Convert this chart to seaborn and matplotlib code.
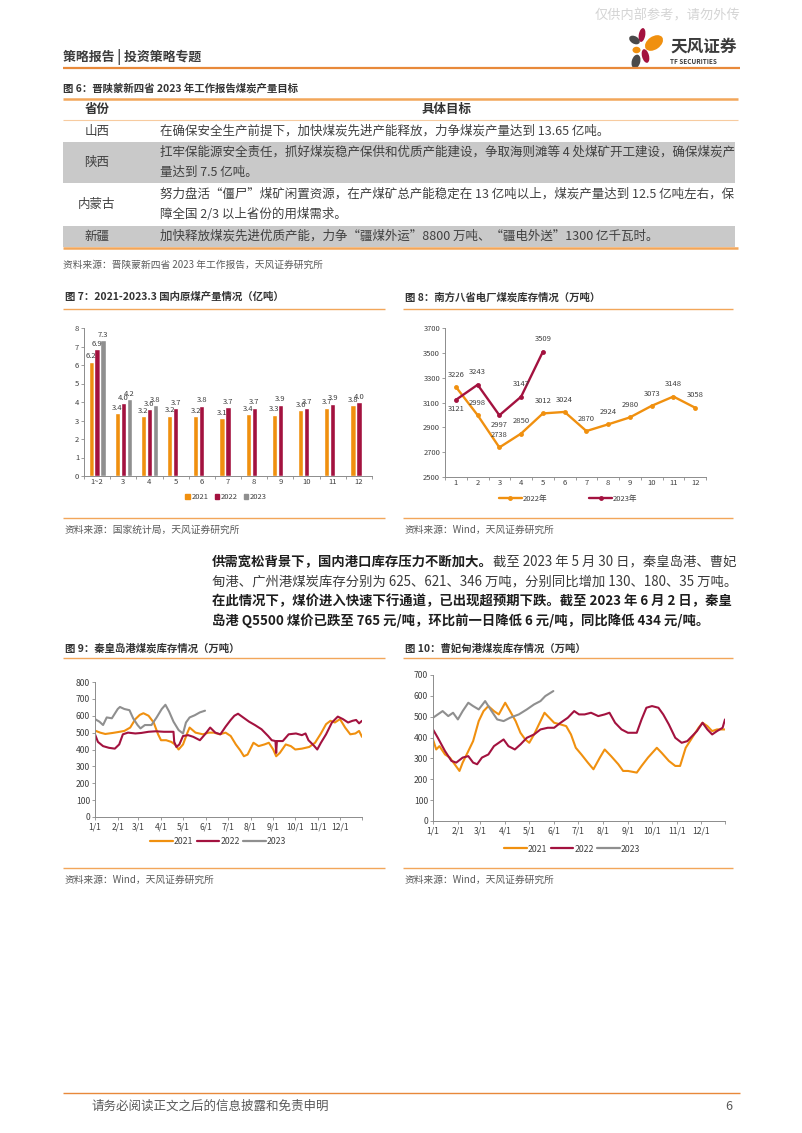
import numpy as np
import pandas as pd
import matplotlib
matplotlib.use('Agg')
import matplotlib.pyplot as plt
import seaborn as sns
from matplotlib.patches import Ellipse, Rectangle
from matplotlib.lines import Line2D

# ---------------------------------------------------------------- data
TABLE_TITLE = '图 6：晋陕蒙新四省 2023 年工作报告煤炭产量目标'
TABLE_HEAD = ['省份', '具体目标']
PROVINCES = ['山西', '陕西', '内蒙古', '新疆']
TARGETS = [
    ['在确保安全生产前提下，加快煤炭先进产能释放，力争煤炭产量达到 13.65 亿吨。'],
    ['扛牢保能源安全责任，抓好煤炭稳产保供和优质产能建设，争取海则滩等 4 处煤矿开工建设，确保煤炭产',
     '量达到 7.5 亿吨。'],
    ['努力盘活“僵尸”煤矿闲置资源，在产煤矿总产能稳定在 13 亿吨以上，煤炭产量达到 12.5 亿吨左右，保',
     '障全国 2/3 以上省份的用煤需求。'],
    ['加快释放煤炭先进优质产能，力争“疆煤外运”8800 万吨、“疆电外送”1300 亿千瓦时。'],
]
TABLE_SOURCE = '资料来源：晋陕蒙新四省 2023 年工作报告，天风证券研究所'

# Fig 7: raw coal output (100 million t)
MONTHS7 = ['1~2', '3', '4', '5', '6', '7', '8', '9', '10', '11', '12']
OUT_2021 = [6.18, 3.38, 3.22, 3.25, 3.24, 3.13, 3.35, 3.32, 3.57, 3.70, 3.82]
OUT_2022 = [6.87, 3.95, 3.60, 3.68, 3.80, 3.72, 3.70, 3.86, 3.70, 3.90, 4.00]
OUT_2023 = [7.33, 4.15, 3.82]
YEARS = ['2021', '2022', '2023']

# Fig 8: southern 8 provinces power plant coal stock (10k t)
MONTHS8 = ['1', '2', '3', '4', '5', '6', '7', '8', '9', '10', '11', '12']
STOCK8_2022 = [3226, 2998, 2738, 2850, 3012, 3024, 2870, 2924, 2980, 3073, 3148, 3058]
STOCK8_2023 = [3121, 3243, 2997, 3147, 3509]

# Fig 9: Qinhuangdao port coal stock (10k t)
Q21_DATES = ['01-01', '01-08', '01-15', '01-25', '02-01', '02-10', '02-18', '02-25', '03-03', '03-08',
             '03-15', '03-22', '03-28', '04-01', '04-08', '04-15', '04-20', '04-25', '05-01', '05-07',
             '05-10', '05-18', '05-28', '06-05', '06-12', '06-20', '06-28', '07-05', '07-12', '07-18',
             '07-23', '07-28', '08-05', '08-12', '08-20', '08-26', '09-01', '09-05', '09-10', '09-18',
             '09-25', '10-01', '10-10', '10-20', '10-28', '11-05', '11-12', '11-18', '11-24', '12-01',
             '12-08', '12-15', '12-22', '12-27', '12-31']
Q21_VALS = [512, 500, 492, 498, 503, 510, 530, 580, 605, 615,
            600, 560, 490, 455, 455, 445, 430, 400, 430, 500,
            530, 500, 490, 500, 500, 490, 500, 480, 430, 395,
            360, 370, 440, 420, 430, 440, 400, 360, 380, 430,
            420, 400, 405, 415, 440, 495, 550, 570, 560, 580,
            530, 490, 495, 510, 475]
Q22_DATES = ['01-01', '01-05', '01-12', '01-20', '01-28', '02-03', '02-08', '02-15', '02-25', '03-05',
             '03-15', '03-25', '04-05', '04-15', '04-18', '04-19', '04-22', '04-26', '05-01', '05-08',
             '05-15', '05-24', '05-31', '06-07', '06-14', '06-21', '06-28', '07-05', '07-10', '07-15',
             '07-22', '07-30', '08-07', '08-16', '08-25', '08-30', '09-04', '09-05', '09-06', '09-14',
             '09-22', '10-02', '10-10', '10-15', '10-19', '10-26', '10-31', '11-05', '11-12', '11-20',
             '11-28', '12-05', '12-12', '12-18', '12-23', '12-27', '12-31']
Q22_VALS = [490, 445, 420, 410, 405, 430, 490, 500, 495, 498,
            505, 508, 505, 505, 505, 445, 415, 430, 480, 485,
            475, 455, 490, 530, 500, 490, 535, 575, 600, 612,
            590, 565, 545, 520, 480, 455, 450, 380, 450, 450,
            490, 495, 485, 495, 455, 425, 400, 440, 490, 560,
            595, 580, 560, 570, 575, 555, 570]
Q23_DATES = ['01-01', '01-07', '01-12', '01-17', '01-24', '02-01', '02-04', '02-10', '02-17', '02-22',
             '02-28', '03-04', '03-10', '03-19', '03-26', '04-02', '04-07', '04-12', '04-18', '04-25',
             '05-01', '05-05', '05-10', '05-17', '05-24', '05-31']
Q23_VALS = [580, 565, 545, 590, 585, 640, 652, 640, 633, 585,
            545, 525, 545, 545, 590, 640, 665, 625, 565, 515,
            495, 560, 590, 603, 620, 630]

# Fig 10: Caofeidian port coal stock (10k t)
C21_DATES = ['01-01', '01-05', '01-09', '01-16', '01-22', '01-28', '02-03', '02-07', '02-14', '02-20',
             '02-27', '03-05', '03-11', '03-18', '03-24', '04-01', '04-07', '04-14', '04-20', '04-26',
             '05-01', '05-07', '05-15', '05-20', '05-26', '06-01', '06-09', '06-16', '06-22', '06-28',
             '07-05', '07-13', '07-20', '07-28', '08-03', '08-11', '08-20', '08-26', '09-01', '09-12',
             '09-18', '09-26', '10-07', '10-13', '10-22', '10-30', '11-05', '11-12', '11-20', '11-28',
             '12-03', '12-09', '12-15', '12-21', '12-31']
C21_VALS = [391, 343, 359, 319, 304, 272, 240, 280, 335, 383,
            479, 527, 551, 527, 511, 567, 527, 479, 423, 391,
            375, 415, 479, 519, 495, 471, 463, 455, 415, 351,
            319, 280, 248, 304, 343, 311, 272, 240, 240, 232,
            264, 304, 351, 327, 288, 264, 264, 351, 399, 447,
            471, 455, 431, 439, 439]
C22_DATES = ['01-01', '01-07', '01-16', '01-24', '01-30', '02-07', '02-14', '02-20', '02-25', '03-03',
             '03-11', '03-18', '03-24', '03-30', '04-05', '04-13', '04-20', '04-28', '05-07', '05-15',
             '05-24', '06-01', '06-09', '06-18', '06-26', '07-02', '07-09', '07-17', '07-26', '08-03',
             '08-09', '08-16', '08-24', '09-01', '09-12', '09-18', '09-24', '10-01', '10-09', '10-15',
             '10-22', '10-30', '11-07', '11-14', '11-20', '11-26', '12-03', '12-09', '12-15', '12-21',
             '12-28', '12-31']
C22_VALS = [439, 399, 335, 288, 280, 304, 311, 280, 272, 304,
            319, 359, 375, 391, 359, 343, 367, 399, 415, 439,
            447, 447, 471, 495, 527, 511, 511, 519, 503, 511,
            519, 471, 439, 423, 423, 487, 543, 551, 543, 511,
            463, 399, 375, 383, 407, 431, 471, 439, 415, 431,
            447, 487]
C23_DATES = ['01-01', '01-07', '01-13', '01-20', '01-26', '02-01', '02-07', '02-14', '02-20', '02-27',
             '03-07', '03-15', '03-22', '03-30', '04-07', '04-18', '04-28', '05-07', '05-15', '05-21',
             '05-31']
C23_VALS = [495, 511, 527, 503, 519, 487, 527, 567, 551, 535,
            575, 527, 487, 479, 495, 511, 535, 559, 575, 599,
            623]

MONTH_TICKS = ['1/1', '2/1', '3/1', '4/1', '5/1', '6/1', '7/1', '8/1', '9/1', '10/1', '11/1', '12/1']

PARA_LINES = [
    [('供需宽松背景下，国内港口库存压力不断加大。', True), ('截至 2023 年 5 月 30 日，秦皇岛港、曹妃', False)],
    [('甸港、广州港煤炭库存分别为 625、621、346 万吨，分别同比增加 130、180、35 万吨。', False)],
    [('在此情况下，煤价进入快速下行通道，已出现超预期下跌。截至 2023 年 6 月 2 日，秦皇', True)],
    [('岛港 Q5500 煤价已跌至 765 元/吨，环比前一日降低 6 元/吨，同比降低 434 元/吨。', True)],
]

# ---------------------------------------------------------------- style
sns.set_theme(style='ticks')
plt.rcParams['font.family'] = ['Noto Sans CJK SC', 'DejaVu Sans']
plt.rcParams['axes.unicode_minus'] = False

ORANGE = '#F0900F'
CRIMSON = '#A3123F'
GREY = '#8F8F8F'
LINE_OR = '#F2A65A'
TXT = '#3A3A3A'
SRC = '#5A5A5A'
AXC = '#8C8C8C'
PAL = {'2021': ORANGE, '2022': CRIMSON, '2023': GREY}

W, H = 802, 1133
fig = plt.figure(figsize=(W / 100, H / 100), dpi=100)
page = fig.add_axes([0, 0, 1, 1])
page.set_xlim(0, W)
page.set_ylim(H, 0)
page.axis('off')
renderer = fig.canvas.get_renderer()


def rect(x0, y0, x1, y1):
    return [x0 / W, 1 - y1 / H, (x1 - x0) / W, (y1 - y0) / H]


def hline(y, x0, x1, color=LINE_OR, lw=1.0):
    page.plot([x0, x1], [y, y], color=color, lw=lw, solid_capstyle='butt')


def txt(x, y, s, size=7.5, color=TXT, bold=False, ha='left', **kw):
    return page.text(x, y, s, fontsize=size, color=color, ha=ha, va='center',
                     fontweight='bold' if bold else 'normal', **kw)


# ---------------------------------------------------------------- header
txt(740, 16, '仅供内部参考，请勿外传', size=9.5, color='#D4D4D4', ha='right')
txt(63, 57, '策略报告 | 投资策略专题', size=9.3, color='#3C3C3C', bold=True)
hline(68, 63, 740, color='#E8893A', lw=1.6)
# logo petals
for (cx, cy, w, h, ang, col) in [
        (642, 35, 6.5, 14, 10, CRIMSON), (654, 43, 20, 13, -35, ORANGE),
        (634.5, 40, 11.5, 7.5, 30, '#4A4A4A'), (636.5, 50, 8, 6.5, 0, ORANGE),
        (645.5, 56, 7, 14, -15, CRIMSON), (636, 61.5, 8.5, 14, 15, '#4A4A4A')]:
    page.add_patch(Ellipse((cx, cy), w, h, angle=ang, color=col, lw=0))
txt(670, 47, '天风证券', size=12, color='#3C3C3C', bold=True)
txt(670, 62, 'TF SECURITIES', size=4.6, color='#3C3C3C', bold=True)

# ---------------------------------------------------------------- table
txt(63, 88, TABLE_TITLE, size=7.5, bold=True, color='#333333')
row_top = [120, 142, 183, 226]
row_bot = [142, 183, 226, 247]
for i in (1, 3):
    page.add_patch(Rectangle((63, row_top[i]), 672, row_bot[i] - row_top[i],
                             color='#C9C9C9', lw=0))
hline(98.5, 63, 738, lw=1.8)
hline(120, 63, 738, color='#F7CBA0', lw=0.8)
hline(247.5, 63, 738, lw=1.8)
txt(97, 109, TABLE_HEAD[0], size=9, bold=True, ha='center', color='#333333')
txt(447, 109, TABLE_HEAD[1], size=9, bold=True, ha='center', color='#333333')
for i, (prov, lines) in enumerate(zip(PROVINCES, TARGETS)):
    yc = (row_top[i] + row_bot[i]) / 2
    txt(97, yc, prov, size=9.0, ha='center', color='#404040')
    n = len(lines)
    for j, ln in enumerate(lines):
        y = yc + (j - (n - 1) / 2) * 20
        txt(160, y, ln, size=9.0, color='#404040')
txt(63, 265, TABLE_SOURCE, size=7, color=SRC)

# ---------------------------------------------------------------- chart frames
def frame(x0, x1, y_title, y_top, y_bot, title, source):
    txt(x0 + 2, y_title, title, size=7.5, bold=True, color='#333333')
    hline(y_top, x0, x1, lw=1.0)
    hline(y_bot, x0, x1, lw=1.0)
    txt(x0 + 2, y_bot + 12, source, size=7, color=SRC)


frame(63, 385, 297, 309, 518, '图 7：2021-2023.3 国内原煤产量情况（亿吨）', '资料来源：国家统计局，天风证券研究所')
frame(403, 733, 297, 309, 518, '图 8：南方八省电厂煤炭库存情况（万吨）', '资料来源：Wind，天风证券研究所')
frame(63, 385, 648, 658, 868, '图 9：秦皇岛港煤炭库存情况（万吨）', '资料来源：Wind，天风证券研究所')
frame(403, 733, 648, 658, 868, '图 10：曹妃甸港煤炭库存情况（万吨）', '资料来源：Wind，天风证券研究所')


def style_axes(ax, size=5.5):
    sns.despine(ax=ax)
    for s in ('left', 'bottom'):
        ax.spines[s].set_color(AXC)
        ax.spines[s].set_linewidth(0.7)
    ax.tick_params(labelsize=size, colors=AXC, labelcolor='#404040', length=2, width=0.6, pad=1.5)
    ax.set_xlabel('')
    ax.set_ylabel('')
    ax.set_facecolor('none')
    ax.grid(False)


# ---------------------------------------------------------------- Fig 7 bars
rows = []
for yr, vals in zip(YEARS, [OUT_2021, OUT_2022, OUT_2023]):
    for m, v in zip(MONTHS7, vals):
        rows.append({'month': m, 'year': yr, 'value': v})
df7 = pd.DataFrame(rows)
ax7 = fig.add_axes(rect(84, 328, 372, 476))
sns.barplot(data=df7, x='month', y='value', hue='year', order=MONTHS7, hue_order=YEARS,
            palette=PAL, width=0.68, gap=0.12, errorbar=None, legend=False, ax=ax7,
            saturation=1)
for cont in ax7.containers:
    ax7.bar_label(cont, fmt='%.1f', fontsize=5.5, padding=1, color='#404040')
style_axes(ax7)
ax7.set_ylim(0, 8)
ax7.set_yticks(range(0, 9))
ax7.set_xlim(-0.5, len(MONTHS7) - 0.5)
ax7.set_xticks(np.arange(-0.5, len(MONTHS7), 1), minor=True)
ax7.tick_params(axis='x', which='major', length=0)
ax7.tick_params(axis='x', which='minor', length=2.5, color=AXC, width=0.6)
handles7 = [Rectangle((0, 0), 1, 1, color=PAL[y]) for y in YEARS]
fig.legend(handles7, YEARS, loc='center', bbox_to_anchor=(226 / W, 1 - 497 / H), ncol=3,
           frameon=False, fontsize=5.5, handlelength=0.6, handleheight=0.6,
           handletextpad=0.2, columnspacing=0.8, labelcolor='#404040')

# ---------------------------------------------------------------- Fig 8 lines
df8 = pd.concat([
    pd.DataFrame({'pos': range(len(STOCK8_2022)), 'value': STOCK8_2022, 'year': '2022年'}),
    pd.DataFrame({'pos': range(len(STOCK8_2023)), 'value': STOCK8_2023, 'year': '2023年'}),
])
ax8 = fig.add_axes(rect(445, 328, 706, 477))
sns.lineplot(data=df8, x='pos', y='value', hue='year', palette={'2022年': ORANGE, '2023年': CRIMSON},
             marker='o', markersize=3.5, markeredgewidth=0, linewidth=1.7, legend=False, ax=ax8)
style_axes(ax8)
ax8.set_ylim(2500, 3700)
ax8.set_yticks(range(2500, 3701, 200))
ax8.set_xlim(-0.5, len(MONTHS8) - 0.5)
ax8.set_xticks(range(len(MONTHS8)))
ax8.set_xticklabels(MONTHS8)
ax8.set_xticks(np.arange(-0.5, len(MONTHS8), 1), minor=True)
ax8.tick_params(axis='x', which='major', length=0)
ax8.tick_params(axis='x', which='minor', length=2.5, color=AXC, width=0.6)
for i, v in enumerate(STOCK8_2022):
    ax8.annotate(str(v), (i, v), xytext=(0, 6), textcoords='offset points', ha='center',
                 va='bottom', fontsize=5.5, color='#404040')
POS_2023 = ['below', 'above', 'below', 'above', 'above']
for i, (v, p) in enumerate(zip(STOCK8_2023, POS_2023)):
    dy = 6 if p == 'above' else -4
    ax8.annotate(str(v), (i, v), xytext=(0, dy), textcoords='offset points', ha='center',
                 va='bottom' if p == 'above' else 'top', fontsize=5.5, color='#404040')
handles8 = [Line2D([], [], color=ORANGE, lw=1.7, marker='o', markersize=3.5, markeredgewidth=0),
            Line2D([], [], color=CRIMSON, lw=1.7, marker='o', markersize=3.5, markeredgewidth=0)]
fig.legend(handles8, ['2022年', '2023年'], loc='center', bbox_to_anchor=(568 / W, 1 - 499 / H),
           ncol=2, frameon=False, fontsize=5.5, handlelength=3.0, handletextpad=0.1,
           columnspacing=5.5, labelcolor='#404040')


# ---------------------------------------------------------------- Fig 9 / 10
def doy(dates):
    return (pd.to_datetime(['2021-' + d for d in dates]).dayofyear - 1).tolist()


MONTH_POS = doy(['01-01', '02-01', '03-01', '04-01', '05-01', '06-01', '07-01', '08-01',
                 '09-01', '10-01', '11-01', '12-01'])


def port_chart(box, series, ymax, legend_xy):
    df = pd.concat([pd.DataFrame({'day': doy(d), 'value': v, 'year': y}) for y, d, v in series])
    ax = fig.add_axes(rect(*box))
    sns.lineplot(data=df, x='day', y='value', hue='year', palette=PAL, hue_order=YEARS,
                 linewidth=1.5, legend=False, ax=ax, estimator=None)
    style_axes(ax, size=6.2)
    ax.set_ylim(0, ymax)
    ax.set_yticks(range(0, ymax + 1, 100))
    ax.set_xlim(0, 364)
    ax.set_xticks(MONTH_POS)
    ax.set_xticklabels(MONTH_TICKS)
    ax.set_xticks([364], minor=True)
    ax.tick_params(axis='x', which='both', length=2.5, color=AXC, width=0.6)
    hs = [Line2D([], [], color=PAL[y], lw=1.6) for y in YEARS]
    fig.legend(hs, YEARS, loc='center', bbox_to_anchor=(legend_xy[0] / W, 1 - legend_xy[1] / H),
               ncol=3, frameon=False, fontsize=6.3, handlelength=2.6, handletextpad=0.1,
               columnspacing=0.4, labelcolor='#404040')
    return ax


port_chart((95, 682, 362, 817),
           [('2021', Q21_DATES, Q21_VALS), ('2022', Q22_DATES, Q22_VALS), ('2023', Q23_DATES, Q23_VALS)],
           800, (218, 842))
port_chart((433, 675, 725, 821),
           [('2021', C21_DATES, C21_VALS), ('2022', C22_DATES, C22_VALS), ('2023', C23_DATES, C23_VALS)],
           700, (572, 849))

# ---------------------------------------------------------------- paragraph
for k, segs in enumerate(PARA_LINES):
    y = 562 + k * 19.5
    x = 212
    for s, bold in segs:
        t = txt(x, y, s, size=9.6, bold=bold, color='#1E1E1E' if bold else '#3A3A3A')
        bb = t.get_window_extent(renderer=renderer)
        x = page.transData.inverted().transform((bb.x1, bb.y0))[0]

# ---------------------------------------------------------------- footer
hline(1093, 63, 740, color='#E8893A', lw=1.0)
txt(92, 1106, '请务必阅读正文之后的信息披露和免责申明', size=9, color='#595959')
txt(732, 1106, '6', size=9, color='#595959', ha='right')

fig.savefig('out.png', dpi=100)
